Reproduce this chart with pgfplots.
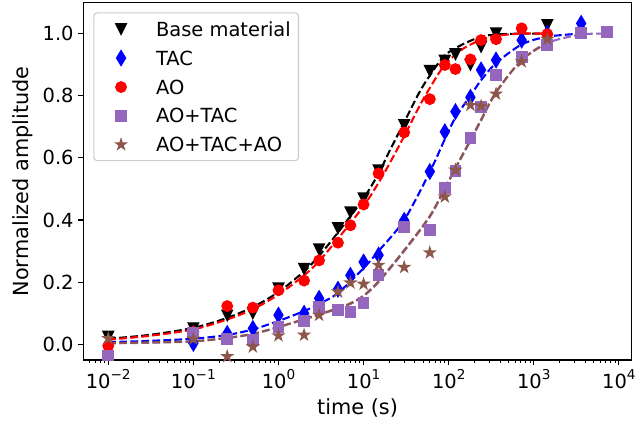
\documentclass[border=0pt]{standalone}
\usepackage{pgfplots}
\pgfplotsset{compat=1.18}
\usepackage{fontspec}
\setmainfont{DejaVu Sans}
\definecolor{tabpurple}{HTML}{9467BD}
\definecolor{tabbrown}{HTML}{8C564B}
\pgfdeclareplotmark{mpltri}{%
 \pgfpathmoveto{\pgfqpoint{0pt}{-\pgfplotmarksize}}%
 \pgfpathlineto{\pgfqpoint{\pgfplotmarksize}{\pgfplotmarksize}}%
 \pgfpathlineto{\pgfqpoint{-\pgfplotmarksize}{\pgfplotmarksize}}%
 \pgfpathclose\pgfusepathqfillstroke}
\pgfdeclareplotmark{mpldiam}{%
 \pgfpathmoveto{\pgfqpoint{0pt}{\pgfplotmarksize}}%
 \pgfpathlineto{\pgfqpoint{0.6\pgfplotmarksize}{0pt}}%
 \pgfpathlineto{\pgfqpoint{0pt}{-\pgfplotmarksize}}%
 \pgfpathlineto{\pgfqpoint{-0.6\pgfplotmarksize}{0pt}}%
 \pgfpathclose\pgfusepathqfillstroke}
\pgfdeclareplotmark{mplstar}{%
 \pgfpathmoveto{\pgfpointpolar{90}{\pgfplotmarksize}}%
 \pgfpathlineto{\pgfpointpolar{126}{0.382\pgfplotmarksize}}%
 \pgfpathlineto{\pgfpointpolar{162}{\pgfplotmarksize}}%
 \pgfpathlineto{\pgfpointpolar{198}{0.382\pgfplotmarksize}}%
 \pgfpathlineto{\pgfpointpolar{234}{\pgfplotmarksize}}%
 \pgfpathlineto{\pgfpointpolar{270}{0.382\pgfplotmarksize}}%
 \pgfpathlineto{\pgfpointpolar{306}{\pgfplotmarksize}}%
 \pgfpathlineto{\pgfpointpolar{342}{0.382\pgfplotmarksize}}%
 \pgfpathlineto{\pgfpointpolar{18}{\pgfplotmarksize}}%
 \pgfpathlineto{\pgfpointpolar{54}{0.382\pgfplotmarksize}}%
 \pgfpathclose\pgfusepathqfillstroke}
\newcommand{\tp}[1]{10\raisebox{6.5bp}{\fontsize{9.8bp}{10bp}\selectfont #1}}
\begin{document}
\begin{tikzpicture}
\useasboundingbox (-59.98bp,-46.08bp) rectangle (398.66bp,259.2bp);
\begin{axis}[
 at={(0,0)}, anchor=south west,
 scale only axis, width=394.85bp, height=257.26bp,
 xmode=log, log basis x=10,
 xmin=0.005093, xmax=14125, ymin=-0.0505, ymax=1.0995,
 xtick={0.01,0.1,1,10,100,1000,10000},
 xticklabels={\tp{−2},\tp{−1},\tp{0},\tp{1},\tp{2},\tp{3},\tp{4}},
 minor xtick={0.006,0.007,0.008,0.009,0.02,0.03,0.04,0.05,0.06,0.07,0.08,0.09,0.2,0.3,0.4,0.5,0.6,0.7,0.8,0.9,2,3,4,5,6,7,8,9,20,30,40,50,60,70,80,90,200,300,400,500,600,700,800,900,2000,3000,4000,5000,6000,7000,8000,9000},
 ytick={0,0.2,0.4,0.6,0.8,1.0},
 yticklabels={0.0,0.2,0.4,0.6,0.8,1.0},
 tick align=outside, xtick pos=left, ytick pos=left,
 major tick length=3.5bp, minor tick length=2bp,
 major tick style={line width=0.8bp,black},
 minor tick style={line width=0.6bp,black},
 axis line style={line width=0.8bp},
 tick label style={font=\fontsize{14bp}{16bp}\selectfont},
 xlabel={time (s)}, ylabel={Normalized amplitude},
 label style={font=\fontsize{15bp}{18bp}\selectfont},
 xlabel style={at={(axis description cs:0.5,-0.133)}, anchor=center},
 ylabel style={at={(axis description cs:-0.111,0.5)}, anchor=center},
 legend style={at={(axis description cs:0.0182,0.973)}, anchor=north west,
   draw=black!20, fill=white, rounded corners=2.5bp, line width=0.8bp,
   font=\fontsize{14bp}{16bp}\selectfont, inner xsep=5.6bp, inner ysep=6.5bp,
   row sep=10.5bp, column sep=11.2bp,
   nodes={inner sep=0pt, text height=10.2bp, text depth=0bp}},
 legend cell align=left,
 legend image code/.code={\path[draw=none,fill=none] (0bp,0bp) -- (28bp,0bp); \path[#1] plot[only marks] coordinates {(14bp,0bp)};},
 mk/.style={only marks, line width=1bp, mark size=3.75bp},
 fit/.style={line width=1.5bp, dash pattern=on 5.55bp off 2.4bp, smooth, forget plot},
]
% Base material
\addplot[mk, black, fill=black, mark=mpltri] coordinates {
(0.01,0.025) (0.1,0.052) (0.25,0.093) (0.5,0.100) (1,0.180) (2,0.243) (3,0.306) (5,0.374) (7,0.425) (10,0.470) (15,0.560) (30,0.706) (60,0.880) (90,0.913) (120,0.934) (180,0.900) (240,0.958) (360,1.001) (1440,1.028)};
\addlegendentry{Base material}
\addplot[fit, black] coordinates {
(0.01,0.018) (0.03,0.030) (0.1,0.053) (0.25,0.085) (0.5,0.120) (1,0.168) (2,0.235) (3,0.285) (5,0.360) (10,0.470) (15,0.550) (20,0.620) (30,0.715) (45,0.810) (60,0.865) (90,0.930) (145,0.965) (240,0.990) (360,0.997) (720,1.000) (1440,1.000)};
% TAC
\addplot[mk, blue, fill=blue, mark=mpldiam, mark size=5.3bp] coordinates {
(0.01,0.0) (0.1,0.003) (0.25,0.035) (0.5,0.051) (1,0.094) (2,0.100) (3,0.148) (5,0.177) (7,0.222) (10,0.265) (15,0.287) (30,0.399) (60,0.556) (90,0.684) (120,0.749) (180,0.795) (240,0.883) (360,0.915) (720,0.979) (1440,1.0) (3600,1.033)};
\addlegendentry{TAC}
\addplot[fit, blue] coordinates {
(0.01,0.007) (0.03,0.011) (0.1,0.018) (0.25,0.030) (0.5,0.048) (1,0.075) (2,0.107) (3,0.130) (5,0.165) (10,0.245) (15,0.300) (30,0.400) (60,0.555) (90,0.660) (120,0.730) (180,0.800) (240,0.850) (360,0.905) (720,0.965) (1440,0.990) (3600,1.000)};
% AO
\addplot[mk, red, fill=red, mark=*] coordinates {
(0.01,-0.005) (0.1,0.040) (0.25,0.123) (0.5,0.118) (1,0.174) (2,0.205) (3,0.270) (5,0.327) (7,0.383) (10,0.450) (15,0.550) (30,0.682) (60,0.789) (90,0.899) (120,0.886) (180,0.917) (240,0.979) (360,0.982) (720,1.017) (1440,0.998)};
\addlegendentry{AO}
\addplot[fit, red] coordinates {
(0.01,0.015) (0.03,0.027) (0.1,0.048) (0.25,0.080) (0.5,0.113) (1,0.160) (2,0.222) (3,0.268) (5,0.340) (10,0.445) (15,0.520) (20,0.580) (30,0.670) (45,0.765) (60,0.825) (90,0.900) (145,0.950) (240,0.980) (360,0.993) (720,1.000) (1440,1.000)};
% AO+TAC
\addplot[mk, tabpurple, fill=tabpurple, mark=square*] coordinates {
(0.01,-0.036) (0.1,0.038) (0.25,0.016) (0.5,0.015) (1,0.055) (2,0.075) (3,0.121) (5,0.110) (7,0.105) (10,0.134) (15,0.223) (30,0.377) (60,0.368) (90,0.502) (120,0.559) (180,0.665) (240,0.765) (360,0.867) (720,0.926) (1440,0.963) (3600,1.001) (7200,1.004)};
\addlegendentry{AO+TAC}
\addplot[fit, tabpurple] coordinates {
(0.01,0.003) (0.03,0.005) (0.1,0.009) (0.25,0.020) (0.5,0.033) (1,0.055) (2,0.080) (3,0.095) (5,0.115) (7,0.130) (10,0.155) (15,0.200) (30,0.300) (60,0.410) (90,0.500) (120,0.565) (180,0.655) (240,0.720) (360,0.810) (720,0.915) (1440,0.970) (3600,0.997) (7200,1.000)};
% AO+TAC+AO
\addplot[mk, tabbrown, fill=tabbrown, mark=mplstar] coordinates {
(0.01,0.019) (0.1,0.017) (0.25,-0.039) (0.5,-0.008) (1,0.028) (2,0.030) (3,0.094) (5,0.169) (7,0.198) (10,0.194) (15,0.255) (30,0.248) (60,0.295) (90,0.475) (120,0.561) (180,0.770) (240,0.767) (360,0.806) (720,0.910) (1440,0.982)};
\addlegendentry{AO+TAC+AO}
\addplot[fit, tabbrown] coordinates {
(0.01,0.004) (0.03,0.006) (0.1,0.010) (0.25,0.021) (0.5,0.034) (1,0.056) (2,0.081) (3,0.096) (5,0.117) (7,0.132) (10,0.157) (15,0.203) (30,0.303) (60,0.413) (90,0.503) (120,0.568) (180,0.658) (240,0.723) (360,0.812) (720,0.915) (1440,0.970)};
\end{axis}
\end{tikzpicture}
\end{document}
